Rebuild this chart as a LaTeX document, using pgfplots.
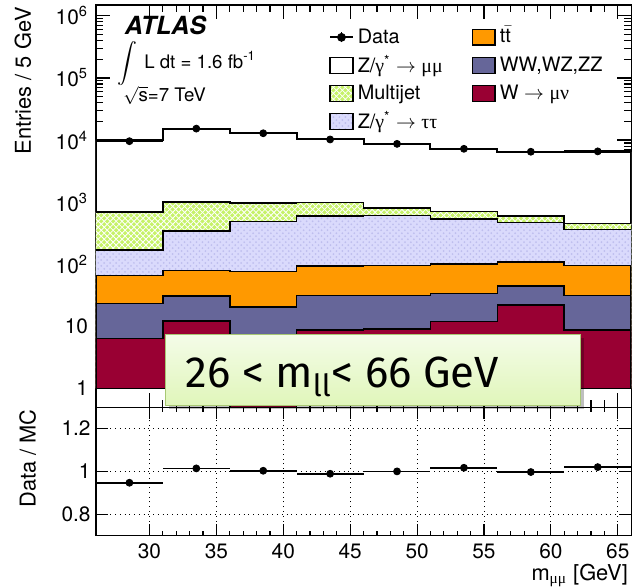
\documentclass[border=0pt]{standalone}
\usepackage{pgfplots}
\pgfplotsset{compat=1.18}
\usepackage{pgfplotstable}
\usepackage{fontspec}
\setmainfont{TeX Gyre Heros}
\newfontfamily\grk{Liberation Serif}
\newfontfamily\lblfont{Fira Sans}
\usetikzlibrary{patterns}

\definecolor{wcol}{RGB}{153,0,51}
\definecolor{vvcol}{RGB}{102,102,153}
\definecolor{ttcol}{RGB}{255,153,0}
\definecolor{zttcol}{RGB}{218,218,252}
\definecolor{zttdot}{RGB}{190,190,238}
\definecolor{mjcol}{RGB}{198,242,104}
\definecolor{boxtop}{RGB}{244,252,232}
\definecolor{boxbot}{RGB}{224,246,186}
\definecolor{boxedge}{RGB}{168,200,116}

% per-bin contributions (lower bin edge; last row closes the final bin)
\pgfplotstableread{
x   w     vv    tt    ztt    mj    zmm
26  6.4   16.9  42.5  105.2  519   9447
31  12.3  18.6  48.1  265    667   14078
36  0.01  20.6  55.6  408.8  490   11866
41  8.7   22.5  61.7  503.1  390   9358
46  9.0   22.6  63.4  516    200   7879
51  11.9  21.7  67.4  441    166   6411
56  21.9  22.7  65.4  358    128   5914
61  8.7   22.9  63.4  271    90    5995
66  8.7   22.9  63.4  271    90    5995
}\stacktab
% cumulative upper edges of the stack
\pgfplotstablecreatecol[expr={\thisrow{w}}]{s1}{\stacktab}
\pgfplotstablecreatecol[expr={\thisrow{s1}+\thisrow{vv}}]{s2}{\stacktab}
\pgfplotstablecreatecol[expr={\thisrow{s2}+\thisrow{tt}}]{s3}{\stacktab}
\pgfplotstablecreatecol[expr={\thisrow{s3}+\thisrow{ztt}}]{s4}{\stacktab}
\pgfplotstablecreatecol[expr={\thisrow{s4}+\thisrow{mj}}]{s5}{\stacktab}
\pgfplotstablecreatecol[expr={\thisrow{s5}+\thisrow{zmm}}]{s6}{\stacktab}

% data at bin centres and the data/MC ratio
\pgfplotstableread{
x     d      r
28.5  9600   0.947
33.5  15300  1.014
38.5  12880  1.003
43.5  10230  0.989
48.5  8690   1.000
53.5  7240   1.017
58.5  6490   0.997
63.5  6580   1.020
}\datatab

\begin{document}
\begin{tikzpicture}
\path (-48.35pt,-90.85pt) rectangle (269.65pt,204.15pt);
\begin{axis}[at={(0,0)}, anchor=south west, scale only axis,
  width=269.65pt, height=202.65pt, xmin=26, xmax=66,
  axis line style={line width=0.6pt},
  tick style={line width=0.6pt, black},
  tick label style={font=\fontsize{10.5}{11}\selectfont},
  xtick={30,35,40,45,50,55,60,65}, minor x tick num=4,
  xticklabels={},
  ymode=log, ymin=0.5, ymax=1.5e6,
  ytick={1,10,100,1000,10000,100000,1000000},
  yticklabels={1,10,10\textsuperscript{2},10\textsuperscript{3},10\textsuperscript{4},10\textsuperscript{5},10\textsuperscript{6}},
  major tick length=7pt, minor tick length=3.5pt,
  yticklabel style={xshift=-0.5pt},
  legend style={at={(rel axis cs:0.435,0.952)}, anchor=north west,
    draw=none, fill=none, inner sep=0pt,
    font=\fontsize{10}{11}\selectfont, row sep=0.6pt,
    /tikz/every even column/.append style={column sep=12.5pt}},
  legend cell align=left, transpose legend, legend columns=4,
]
% legend entries
\addlegendimage{legend image code/.code={
  \draw[black,line width=0.9pt] (0pt,0pt)--(11.5pt,0pt);
  \draw[black,line width=0.9pt] (5.75pt,-2.5pt)--(5.75pt,2.5pt);
  \fill[black] (5.75pt,0pt) circle (2pt);}}
\addlegendentry{Data}
\addlegendimage{legend image code/.code={
  \draw[fill=white,draw=black,line width=0.8pt] (0pt,-4pt) rectangle (11.5pt,4pt);}}
\addlegendentry{Z/{\grk γ}\textsuperscript{*} $\rightarrow$ {\grk μμ}}
\addlegendimage{legend image code/.code={
  \fill[mjcol] (0pt,-4pt) rectangle (11.5pt,4pt);
  \fill[pattern=north east lines, pattern color=white] (0pt,-4pt) rectangle (11.5pt,4pt);
  \fill[pattern=north west lines, pattern color=white] (0pt,-4pt) rectangle (11.5pt,4pt);
  \draw[black,line width=0.8pt] (0pt,-4pt) rectangle (11.5pt,4pt);}}
\addlegendentry{Multijet}
\addlegendimage{legend image code/.code={
  \fill[zttcol] (0pt,-4pt) rectangle (11.5pt,4pt);
  \fill[pattern=crosshatch dots, pattern color=zttdot] (0pt,-4pt) rectangle (11.5pt,4pt);
  \draw[black,line width=0.8pt] (0pt,-4pt) rectangle (11.5pt,4pt);}}
\addlegendentry{Z/{\grk γ}\textsuperscript{*} $\rightarrow$ {\grk ττ}}
\addlegendimage{legend image code/.code={
  \draw[fill=ttcol,draw=black,line width=0.8pt] (0pt,-4pt) rectangle (11.5pt,4pt);}}
\addlegendentry{t\smash{$\bar{\mbox{t}}$}}
\addlegendimage{legend image code/.code={
  \draw[fill=vvcol,draw=black,line width=0.8pt] (0pt,-4pt) rectangle (11.5pt,4pt);}}
\addlegendentry{WW,WZ,ZZ}
\addlegendimage{legend image code/.code={
  \draw[fill=wcol,draw=black,line width=0.8pt] (0pt,-4pt) rectangle (11.5pt,4pt);}}
\addlegendentry{W $\rightarrow$ {\grk μν}}
% stacked histogram, drawn from the top layer down
\addplot[forget plot, const plot, fill=white, draw=black, line width=1pt]
  table[x=x,y=s6]{\stacktab} \closedcycle;
\addplot[forget plot, const plot, fill=mjcol, draw=none]
  table[x=x,y=s5]{\stacktab} \closedcycle;
\addplot[forget plot, const plot, draw=none, pattern=north east lines, pattern color=white]
  table[x=x,y=s5]{\stacktab} \closedcycle;
\addplot[forget plot, const plot, draw=none, pattern=north west lines, pattern color=white]
  table[x=x,y=s5]{\stacktab} \closedcycle;
\addplot[forget plot, const plot, draw=black, line width=0.8pt]
  table[x=x,y=s5]{\stacktab};
\addplot[forget plot, const plot, fill=zttcol, draw=none]
  table[x=x,y=s4]{\stacktab} \closedcycle;
\addplot[forget plot, const plot, draw=none, pattern=crosshatch dots, pattern color=zttdot]
  table[x=x,y=s4]{\stacktab} \closedcycle;
\addplot[forget plot, const plot, draw=black, line width=0.8pt]
  table[x=x,y=s4]{\stacktab};
\addplot[forget plot, const plot, fill=ttcol, draw=black, line width=0.8pt]
  table[x=x,y=s3]{\stacktab} \closedcycle;
\addplot[forget plot, const plot, fill=vvcol, draw=black, line width=0.8pt]
  table[x=x,y=s2]{\stacktab} \closedcycle;
\addplot[forget plot, const plot, fill=wcol, draw=black, line width=0.8pt]
  table[x=x,y=s1]{\stacktab} \closedcycle;
% data
\addplot[forget plot, only marks, mark=*, mark size=1.75pt, black,
  error bars/.cd, x dir=both, x fixed=2.5, error mark=none,
  error bar style={line width=0.9pt}]
  table[x=x,y=d]{\datatab};
\end{axis}
\begin{axis}[at={(0,0)}, anchor=north west, scale only axis,
  width=269.65pt, height=64.7pt, xmin=26, xmax=66,
  axis line style={line width=0.6pt},
  tick style={line width=0.6pt, black},
  tick label style={font=\fontsize{10.5}{11}\selectfont},
  xtick={30,35,40,45,50,55,60,65}, minor x tick num=4,
  xticklabels={30,35,40,45,50,55,60,65},
  xticklabel style={yshift=-0.5pt},
  ymin=0.7, ymax=1.3,
  ytick={0.8,1,1.2}, yticklabels={0.8,1,1.2},
  major tick length=6pt, minor tick length=2.5pt,
  yticklabel style={xshift=0.8pt},
  grid=major, grid style={black, dotted, line width=0.5pt},
]
\addplot[only marks, mark=*, mark size=1.75pt, black,
  error bars/.cd, x dir=both, x fixed=2.5, error mark=none,
  error bar style={line width=0.9pt}]
  table[x=x,y=r]{\datatab};
\end{axis}
% labels and annotations
\node[anchor=base west, inner sep=0, font=\bfseries\itshape\fontsize{12.6}{13}\selectfont]
  at (14.4pt,187.8pt) {ATLAS};
\node[inner sep=0, font=\fontsize{10}{12}\selectfont] at (15.9pt,173.2pt) {$\displaystyle\int$};
\node[anchor=base west, inner sep=0, font=\fontsize{9.4}{10}\selectfont]
  at (24.15pt,170.8pt) {L dt = 1.6 fb\textsuperscript{-1}};
\node[anchor=base west, inner sep=0, font=\fontsize{9.4}{10}\selectfont]
  at (13.6pt,154.15pt) {$\sqrt{\mbox{s}}$=7 TeV};
\fill[black, opacity=0.25] (36.8pt,-1pt) rectangle (245.95pt,34.85pt);
\draw[draw=boxedge, line width=0.8pt, top color=boxtop, bottom color=boxbot]
  (35pt,0.8pt) rectangle (244.15pt,36.65pt);
\node[anchor=base west, inner sep=0, font=\lblfont\fontsize{22}{24}\selectfont]
  at (45pt,10pt) {26 < m\textsubscript{ll}< 66 GeV};
\node[rotate=90, anchor=base east, inner sep=0, font=\fontsize{11}{12}\selectfont]
  at (-32.85pt,201.65pt) {Entries / 5 GeV};
\node[rotate=90, anchor=base east, inner sep=0, font=\fontsize{11}{12}\selectfont]
  at (-30.35pt,-0.85pt) {Data / MC};
\node[anchor=base east, inner sep=0, font=\fontsize{11}{12}\selectfont]
  at (268.15pt,-87.2pt) {m\textsubscript{\grk μμ} [GeV]};
\end{tikzpicture}
\end{document}
